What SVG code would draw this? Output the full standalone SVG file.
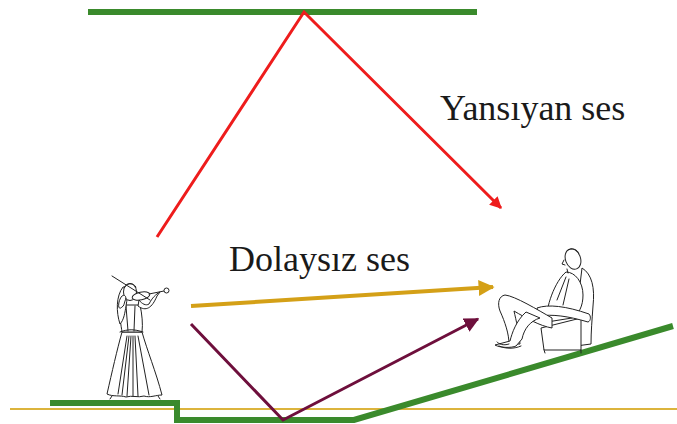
<svg xmlns="http://www.w3.org/2000/svg" width="677" height="424" viewBox="0 0 677 424">
  <defs>
    <style>
      .label { font-family: "Liberation Serif", "Times New Roman", serif; font-size: 36px; fill: #1a1a1a; }
      .surface { fill: none; stroke: #3a8a2c; stroke-width: 6; stroke-linejoin: miter; }
      .ink { fill: none; stroke: #222; stroke-width: 1; stroke-linejoin: round; stroke-linecap: round; }
      .inkfill { fill: #fff; stroke: #222; stroke-width: 1; stroke-linejoin: round; }
    </style>
    <marker id="headRed" viewBox="0 0 10 10" refX="9" refY="5" markerWidth="4" markerHeight="4" orient="auto" markerUnits="strokeWidth">
      <path d="M0,0 L10,5 L0,10 Z" fill="#ee1c1c"/>
    </marker>
    <marker id="headGold" viewBox="0 0 10 10" refX="9" refY="5" markerWidth="4" markerHeight="4" orient="auto" markerUnits="strokeWidth">
      <path d="M0,0 L10,5 L0,10 Z" fill="#d4a017"/>
    </marker>
    <marker id="headMaroon" viewBox="0 0 10 10" refX="9" refY="5" markerWidth="5" markerHeight="5" orient="auto" markerUnits="strokeWidth">
      <path d="M0,0 L10,5 L0,10 Z" fill="#6e0f3c"/>
    </marker>
  </defs>

  <rect width="677" height="424" fill="#ffffff"/>

  <!-- room surfaces -->
  <g id="ceiling">
    <line class="surface" x1="88" y1="12" x2="477" y2="12"/>
  </g>
  <g id="ground-line">
    <line x1="10" y1="409" x2="677" y2="409" stroke="#dcb43c" stroke-width="2"/>
  </g>
  <g id="floor">
    <polyline class="surface" points="50,403 177,403 177,420 354,420 673,326"/>
  </g>

  <!-- sound paths -->
  <g id="connectors">
    <polyline points="157,237 304,12 501,208" fill="none" stroke="#ee1c1c" stroke-width="3" marker-end="url(#headRed)"/>
    <line x1="191" y1="306" x2="493" y2="287" stroke="#d4a017" stroke-width="4" marker-end="url(#headGold)"/>
    <polyline points="191,324 283,420 478,319" fill="none" stroke="#6e0f3c" stroke-width="3" marker-end="url(#headMaroon)"/>
  </g>

  <!-- labels -->
  <g id="label-reflected">
    <text class="label" x="440" y="120">Yansıyan ses</text>
  </g>
  <g id="label-direct">
    <text class="label" x="229" y="271">Dolaysız ses</text>
  </g>

  <!-- violinist -->
  <g id="violinist">
    <!-- skirt -->
    <path class="inkfill" d="M122,332 C117,350 112,372 107,394 C113,397 120,395 126,397 C132,395 138,398 144,396 C150,398 156,395 162,395 C156,372 147,350 142,332 Z"/>
    <path class="ink" d="M127,336 L118,394 M131,336 L127,396 M135,336 L138,396 M138,336 L149,395 M129,336 L122,395 M133,336 L133,396"/>
    <!-- bodice -->
    <path class="inkfill" d="M120,305 C119,315 121,325 122,332 L142,332 C143,324 142,314 140,305 Z"/>
    <path class="ink" d="M120,332 C128,329 134,329 143,332 M126,306 L128,331 M135,306 L134,331"/>
    <!-- hair -->
    <path class="inkfill" d="M123,287 C116,296 116,312 120,324 C124,320 125,312 126,306 C127,300 128,294 127,287 Z"/>
    <!-- head -->
    <ellipse class="inkfill" cx="130" cy="292" rx="6.5" ry="8.5"/>
    <path class="ink" d="M124,288 C126,283 133,282 136,287"/>
    <!-- right arm with bow hand -->
    <path class="inkfill" d="M122,307 C117,312 118,300 122,296 C125,294 127,297 125,301 C124,304 124,306 122,307 Z"/>
    <!-- left arm reaching to violin neck -->
    <path class="inkfill" d="M138,306 C146,312 152,308 157,296 L160,292 C156,294 152,298 149,304 C146,306 142,304 139,300 Z"/>
    <!-- violin -->
    <ellipse class="inkfill" cx="141" cy="296" rx="9" ry="3.8" transform="rotate(-12 141 296)"/>
    <line class="ink" x1="149" y1="294" x2="164" y2="291" stroke-width="2"/>
    <circle class="inkfill" cx="166.5" cy="290.5" r="2.5" stroke-width="1.4"/>
    <!-- bow -->
    <line class="ink" x1="112" y1="276" x2="150" y2="300" stroke-width="1.6"/>
    <!-- feet -->
    <path class="ink" d="M112,396 L110,399 M158,396 L160,399"/>
  </g>

  <!-- seated listener -->
  <g id="listener">
    <!-- armchair -->
    <path class="inkfill" d="M582,268 C592,274 595,288 593,306 C592,320 591,332 591,344 L576,346 L576,318 Z"/>
    <path class="inkfill" d="M541,328 L544,350 L581,350 L581,318 Z"/>
    <path class="ink" d="M544,350 L545,353 M581,350 L581,353"/>
    <!-- torso leaning back -->
    <path class="inkfill" d="M566,272 C575,272 583,282 583,295 C583,306 579,314 572,318 L547,322 C545,308 555,281 566,272 Z"/>
    <path class="ink" d="M566,277 L557,300 M569,279 L563,305"/>
    <!-- armrest -->
    <path class="inkfill" d="M537,308 C548,304 566,306 589,314 C591,316 591,321 588,322 C568,316 552,314 539,316 Z"/>
    <!-- legs -->
    <path class="inkfill" d="M552,318 C538,310 515,296 505,295 C499,296 497,303 500,311 C505,322 509,334 509,344 L520,344 C519,332 516,320 514,311 C526,318 540,326 552,328 Z"/>
    <path class="inkfill" d="M540,318 C530,321 524,329 522,339 L516,346 C512,348 500,348 495,345 L510,341 C512,333 516,321 526,312 Z"/>
    <path class="ink" d="M499,346 C506,349 514,349 521,346 M509,344 C503,346 499,344 497,342"/>
    <!-- head tilted back -->
    <ellipse class="inkfill" cx="573" cy="259" rx="7.5" ry="10.5" transform="rotate(-20 573 259)"/>
    <path class="ink" d="M564,260 L562,264 L565,265 M567,269 L568,273"/>
    <path class="ink" d="M567,251 C571,247 578,249 579,254"/>
  </g>
</svg>
